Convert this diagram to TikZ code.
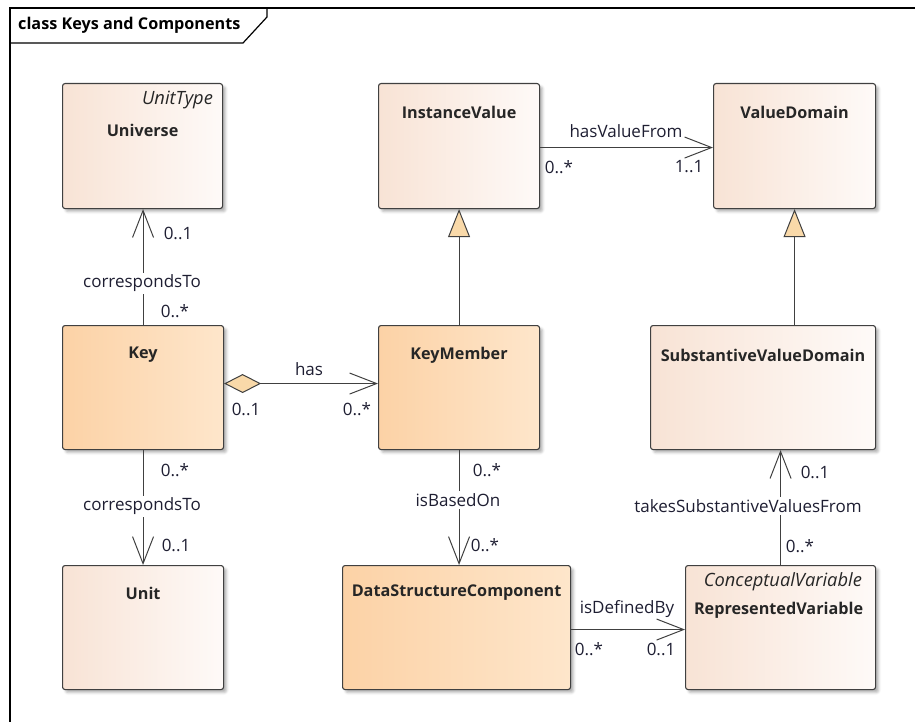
\documentclass[tikz,border=0pt]{standalone}
\usepackage{fontspec}
\setmainfont{Open Sans}
\usetikzlibrary{arrows.meta,shadows.blur}

\definecolor{edge}{HTML}{404040}
\definecolor{txt}{HTML}{1E1E32}
\definecolor{lightL}{HTML}{F8E3D5}
\definecolor{lightR}{HTML}{FEFAF8}
\definecolor{deepL}{HTML}{FCD2A6}
\definecolor{deepR}{HTML}{FEE6CB}
\definecolor{tipfill}{HTML}{F9D9A9}

\tikzset{
  box/.style={draw=edge, line width=1.1pt, rounded corners=2.5pt, anchor=north west,
    inner sep=0pt,
    blur shadow={shadow xshift=3pt, shadow yshift=-3pt, shadow blur radius=2.5pt, shadow opacity=30}},
  lightbox/.style={box, left color=lightL, right color=lightR},
  deepbox/.style={box, left color=deepL, right color=deepR},
  cname/.style={font=\fontsize{16.2}{19}\selectfont\bfseries, text=black!85, inner sep=0pt},
  stereo/.style={font=\fontsize{18.3}{21}\selectfont\itshape, text=black!85, inner sep=0pt, anchor=east},
  lbl/.style={font=\fontsize{17}{20}\selectfont, text=txt, inner sep=1pt},
  onwire/.style={lbl, fill=white, inner sep=2pt},
  conn/.style={draw=edge, line width=1pt},
  nav/.style={conn, -{Straight Barb[length=27pt,width=21pt]}},
  aggnav/.style={conn, {Diamond[length=37pt,width=19pt,fill=tipfill]}-{Straight Barb[length=27pt,width=21pt]}},
  gen/.style={conn, {Triangle[length=28pt,width=22pt,fill=tipfill]}-},
  frameline/.style={draw=black, line width=1.2pt}
}

\begin{document}
\begin{tikzpicture}[x=1pt,y=1pt]
\useasboundingbox (0,0) rectangle (915,-722);

% diagram frame and its name tab
\draw[frameline] (10,-722) -- (10,-8) -- (915,-8);
\draw[frameline] (10,-43) -- (243,-43) -- (267,-17) -- (267,-8);
\node[font=\fontsize{16.2}{19}\selectfont\bfseries, anchor=west, inner sep=0pt] (title) at (18,-25) {class Keys and Components};

% classes
\node[lightbox, minimum width=160pt, minimum height=125pt] (universe) at (62,-83) {};
\node[deepbox,  minimum width=161pt, minimum height=124pt] (key) at (62,-325) {};
\node[lightbox, minimum width=161pt, minimum height=124pt] (unit) at (62,-565) {};
\node[lightbox, minimum width=161pt, minimum height=125pt] (iv) at (378,-83) {};
\node[deepbox,  minimum width=161pt, minimum height=124pt] (km) at (378,-325) {};
\node[lightbox, minimum width=162pt, minimum height=125pt] (vd) at (713,-83) {};
\node[lightbox, minimum width=225pt, minimum height=124pt] (svd) at (650,-325) {};
\node[deepbox,  minimum width=228pt, minimum height=124pt] (dsc) at (342,-565) {};
\node[lightbox, minimum width=190pt, minimum height=124pt] (rv) at (685,-565) {};

% class names and stereotypes
\node[stereo] (universe-st) at ([xshift=-10pt,yshift=-17pt]universe.north east) {UnitType};
\node[cname] (universe-t) at ([yshift=-47pt]universe.north) {Universe};
\node[cname] (key-t) at ([yshift=-30pt]key.north) {Key};
\node[cname] (unit-t) at ([yshift=-28pt]unit.north) {Unit};
\node[cname] (iv-t) at ([yshift=-29pt]iv.north) {InstanceValue};
\node[cname] (km-t) at ([yshift=-30pt]km.north) {KeyMember};
\node[cname] (vd-t) at ([yshift=-29pt]vd.north) {ValueDomain};
\node[cname] (svd-t) at ([yshift=-30pt]svd.north) {SubstantiveValueDomain};
\node[cname] (dsc-t) at ([yshift=-28pt]dsc.north) {DataStructureComponent};
\node[stereo] (rv-st) at ([xshift=-14pt,yshift=-17pt]rv.north east) {ConceptualVariable};
\node[cname] (rv-t) at ([xshift=-2pt,yshift=-45pt]rv.north) {RepresentedVariable};

% generalizations
\draw[gen] (iv.south) -- (km.north);
\draw[gen] (vd.south) -- (vd.south |- svd.north);

% associations
\draw[nav] ([yshift=-1.5pt]iv.east) -- ([yshift=-1.5pt]iv.east -| vd.west);
\node[lbl] (hvf) at (626,-131) {hasValueFrom};
\node[lbl] (hvf-s) at (559,-167) {0..*};
\node[lbl] (hvf-t) at (689,-167) {1..1};

\draw[nav] (key.north) -- (key.north |- universe.south);
\node[onwire] (ct1) at (142,-283) {correspondsTo};
\node[lbl] (ct1-t) at (178,-233) {0..1};
\node[lbl] (ct1-s) at (175,-311) {0..*};

\draw[aggnav] ([yshift=4pt]key.east) -- ([yshift=4pt]key.east -| km.west);
\node[lbl] (has) at (309,-369) {has};
\node[lbl] (has-s) at (246,-409) {0..1};
\node[lbl] (has-t) at (357,-409) {0..*};

\draw[nav] (key.south) -- (key.south |- unit.north);
\node[lbl] (ct2-s) at (175,-470) {0..*};
\node[onwire] (ct2) at (142,-506) {correspondsTo};
\node[lbl] (ct2-t) at (176,-545) {0..1};

\draw[nav] (km.south) -- (km.south |- dsc.north);
\node[lbl] (ibo-s) at (487,-470) {0..*};
\node[onwire] (ibo) at (458,-500) {isBasedOn};
\node[lbl] (ibo-t) at (485,-545) {0..*};

\draw[nav] ([yshift=-2pt]dsc.east) -- ([yshift=-2pt]dsc.east -| rv.west);
\node[lbl] (idb) at (627,-609) {isDefinedBy};
\node[lbl] (idb-s) at (589,-649) {0..*};
\node[lbl] (idb-t) at (661,-649) {0..1};

\draw[nav] (rv.north) -- (rv.north |- svd.south);
\node[lbl] (tsv-t) at (815,-472) {0..1};
\node[onwire] (tsv) at (748,-506) {takesSubstantiveValuesFrom};
\node[lbl] (tsv-s) at (800,-546) {0..*};
\end{tikzpicture}
\end{document}
